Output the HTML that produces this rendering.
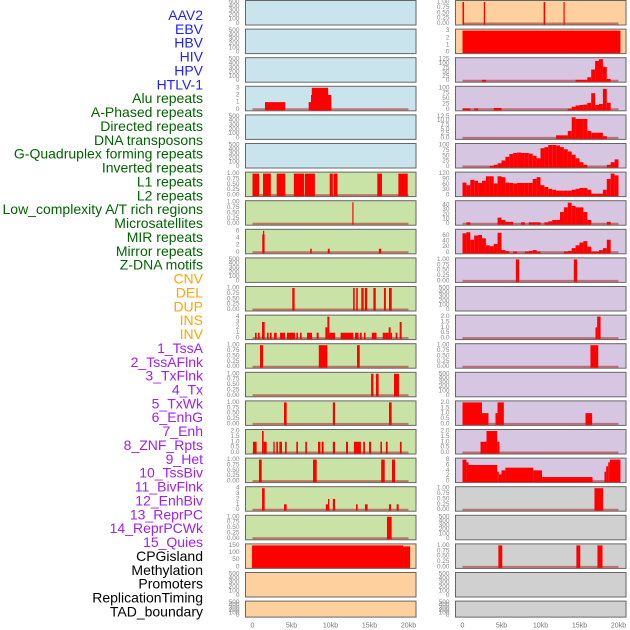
<!DOCTYPE html>
<html><head><meta charset="utf-8"><style>
html,body{margin:0;padding:0;background:#fff;}
svg{display:block;font-family:"Liberation Sans",sans-serif;}
</style></head><body>
<svg id="chart" width="630" height="630" viewBox="0 0 630 630" xmlns="http://www.w3.org/2000/svg"></svg>
<script>
// ---------- data ----------
const labelTexts = ["AAV2","EBV","HBV","HIV","HPV","HTLV-1","Alu repeats","A-Phased repeats","Directed repeats","DNA transposons","G-Quadruplex forming repeats","Inverted repeats","L1 repeats","L2 repeats","Low_complexity A/T rich regions","Microsatellites","MIR repeats","Mirror repeats","Z-DNA motifs","CNV","DEL","DUP","INS","INV","1_TssA","2_TssAFlnk","3_TxFlnk","4_Tx","5_TxWk","6_EnhG","7_Enh","8_ZNF_Rpts","9_Het","10_TssBiv","11_BivFlnk","12_EnhBiv","13_ReprPC","14_ReprPCWk","15_Quies","CPGisland","Methylation","Promoters","ReplicationTiming","TAD_boundary"];
const labelGroups = ["b","b","b","b","b","b","g","g","g","g","g","g","g","g","g","g","g","g","g","o","o","o","o","o","p","p","p","p","p","p","p","p","p","p","p","p","p","p","p","k","k","k","k","k"];
const xTickKb = [0,5,10,15,20];
const xTickLabels = ["0","5kb","10kb","15kb","20kb"];

const T500 = ["0","100","200","300","400","500"];
const TBIN = ["0.00","0.25","0.50","0.75","1.00"];
const T2 = ["0.0","0.5","1.0","1.5","2.0"];

// segments: [startKb, endKb, value]
const L3 = [[1.6,4.2,1],[7.2,10.1,1],[7.5,10.1,2],[7.6,9.7,3]];
const L6 = [[0,0.85,1],[1.35,2.35,1],[3.1,4.2,1],[5.3,6.6,1],[6.7,8.0,1],[9.9,10.3,1],[10.4,10.9,1],[16.0,16.6,1],[18.7,19.9,1]];
const L7 = [[12.8,12.95,1]];
const L8 = [[1.25,1.55,5],[1.35,1.5,6],[7.4,7.6,1],[9.65,9.9,1],[16.2,16.5,1]];
const L10 = [[5.1,5.4,1],[12.9,13.1,1],[13.3,13.5,1],[13.95,14.25,1],[14.4,14.7,1],[15.5,15.8,1],[16.85,17.1,1],[17.5,17.85,1]];
const L11 = [[0.32,0.53,1],[0.7,0.92,1],[1.22,1.56,3],[1.86,2.07,1],[2.24,2.46,1],[2.76,3.1,1],[3.53,4.17,1],[4.42,5.45,1],[5.62,5.83,1],[6.09,6.3,1],[6.99,7.63,1],[8.23,8.48,1],[9.34,9.6,2],[9.6,9.85,4],[9.85,10.58,1],[11.3,12.93,1],[13.14,13.6,1],[13.78,14.0,1],[14.29,14.5,1],[15.3,15.9,1],[16.7,17.03,1],[17.03,17.46,1],[17.46,17.71,2],[17.71,17.9,1],[18.35,18.57,1],[18.87,19.12,3]];
const L12 = [[0.96,1.35,1],[8.5,9.6,1],[13.4,13.75,1]];
const L13 = [[15.2,15.5,1],[15.83,16.17,1],[18.14,18.78,1]];
const L14 = [[4.04,4.38,1],[10.3,10.58,1],[17.5,17.84,1]];
const L15 = [[0.06,0.53,1],[1.22,1.43,2],[1.43,1.82,1],[2.67,2.84,1],[3.06,3.27,1],[3.44,3.78,1],[4.17,4.38,1],[5.62,5.83,1],[6.77,6.98,1],[8.4,8.7,1],[8.87,9.12,1],[10.3,10.58,1],[11.99,12.24,1],[13.0,13.9,1],[14.2,14.42,1],[14.94,15.2,1],[16.4,16.6,1],[17.1,17.33,1],[18.9,19.12,1]];
const L16 = [[0.83,1.18,1],[7.76,8.23,1],[16.5,16.95,1],[17.88,18.27,1]];
const L17 = [[1.22,1.56,4],[4.04,4.38,1],[9.4,9.68,1],[9.68,9.85,2],[10.3,10.58,2],[13.27,13.48,1],[14.42,14.76,1],[17.5,17.76,1],[18.48,18.74,1]];
const L18 = [[17.24,17.84,1]];
const L19 = [[-0.06,19.3,150],[19.3,20.2,143]];

const R0 = [[0,0.2,1],[2.73,2.9,1],[10.4,10.6,1],[12.95,13.1,1]];
const R1 = [[0,20.25,3]];
const R9 = [[6.84,7.26,1],[14.27,14.7,1]];
const R11 = [[17.05,17.26,1],[17.26,17.7,2]];
const R12 = [[16.4,17.4,1]];
const R14 = [[0,2.5,2],[2.5,3.33,1],[4.23,4.49,1],[4.49,5.3,2],[15.77,16.62,1]];
const R15 = [[2.31,3.08,1],[3.08,4.44,2],[4.44,4.74,1]];
const R16 = [[0,0.5,8],[0.5,0.77,7],[0.77,4.44,6],[4.44,4.66,3.5],[4.66,5.0,2.5],[5.0,5.5,4],[5.5,9.06,5],[9.06,10.2,4],[10.2,16.67,1.5],[18.2,18.42,3.5],[18.42,18.68,5.5],[18.68,18.9,7],[18.9,20.25,8]];
const R17 = [[16.92,18.03,1]];
const R19 = [[4.6,5.1,1],[14.6,15.1,1],[17.3,17.95,1]];

// histograms: 0.5kb bins from 0 to 20kb
const R2bins = [0,0,0,0,0,5,0,0,0,0, 0,0,0,0,0,0,0,0,0,0, 0,0,0,0,0,0,0,0,0,5, 5,5,20,65,115,125,80,10,0,0];
const R3bins = [4,4,0,4,0,0,0,0,6,6, 0,0,0,0,0,0,0,0,0,0, 0,0,0,0,0,0,0,2,12,18, 20,22,30,75,20,25,95,30,0,0];
const R4bins = [0,0,0,0,0,0,0,0,0,0, 0,0,0,0,0,0,0,0,0,0, 0,0,0,0,1.5,1.5,1.5,4,12,11, 11,11,4,3,3,3,1,0,0,0];
const R5bins = [0,0,0,0,0,0,0,3,8,15, 28,45,58,63,65,63,63,60,50,38, 85,90,100,100,98,90,80,70,55,38, 20,8,0,0,0,0,0,8,20,33];
const R6bins = [70,55,85,80,68,80,105,105,65,105, 100,70,68,65,68,68,68,68,90,100, 55,45,35,30,25,25,25,25,30,35, 40,40,30,8,8,8,30,90,120,110];
const R7bins = [0,3,0,0,0,0,0,0,0,13, 8,4,4,0,0,3,0,3,3,3, 0,3,5,8,8,25,35,45,38,35, 35,25,8,0,0,0,0,4,0,0];
const R8bins = [68,72,45,60,62,50,25,22,30,70, 8,4,0,3,0,0,3,5,8,3, 0,0,0,0,0,0,3,5,15,25, 35,40,20,3,3,8,15,45,0,0];

// panel definitions: [column, row, bgKey, ticks, ymax, segments, bins]
const panels = [
 [0,0,"blue",T500,500,null,null],[0,1,"blue",T500,500,null,null],[0,2,"blue",T500,500,null,null],
 [0,3,"blue",["0","1","2","3"],3,L3,null],[0,4,"blue",T500,500,null,null],[0,5,"blue",T500,500,null,null],
 [0,6,"green",TBIN,1,L6,null],[0,7,"green",TBIN,1,L7,null],[0,8,"green",["0","2","4","6"],6,L8,null],
 [0,9,"green",T500,500,null,null],[0,10,"green",TBIN,1,L10,null],[0,11,"green",["0","1","2","3","4"],4,L11,null],
 [0,12,"green",TBIN,1,L12,null],[0,13,"green",TBIN,1,L13,null],[0,14,"green",TBIN,1,L14,null],
 [0,15,"green",T2,2,L15,null],[0,16,"green",TBIN,1,L16,null],[0,17,"green",["0","1","2","3","4"],4,L17,null],
 [0,18,"green",TBIN,1,L18,null],[0,19,"orange",["0","50","100","150"],150,L19,null],
 [0,20,"orange",T500,500,null,null],[0,21,"orange",T500,500,null,null],
 [1,0,"orange",TBIN,1,R0,null],[1,1,"orange",["0","1","2","3"],3,R1,null],
 [1,2,"purple",["0","25","50","75","100","125"],125,null,R2bins],[1,3,"purple",["0","25","50","75","100"],100,null,R3bins],
 [1,4,"purple",["0.0","2.5","5.0","7.5","10.0","12.5"],12.5,null,R4bins],[1,5,"purple",["0","25","50","75","100"],100,null,R5bins],
 [1,6,"purple",["0","30","60","90","120"],120,null,R6bins],[1,7,"purple",["0","10","20","30","40"],46,null,R7bins],
 [1,8,"purple",["0","20","40","60"],77,null,R8bins],[1,9,"purple",TBIN,1,R9,null],[1,10,"purple",T500,500,null,null],
 [1,11,"purple",T2,2,R11,null],[1,12,"purple",TBIN,1,R12,null],[1,13,"purple",T500,500,null,null],
 [1,14,"purple",T2,2,R14,null],[1,15,"purple",T2,2,R15,null],[1,16,"purple",["0","2","4","6","8"],8,R16,null],
 [1,17,"grey",TBIN,1,R17,null],[1,18,"grey",T500,500,null,null],[1,19,"grey",TBIN,1,R19,null],
 [1,20,"grey",T500,500,null,null],[1,21,"grey",T500,500,null,null]
];

// ---------- drawing ----------
const NS = "http://www.w3.org/2000/svg";
const svg = document.getElementById("chart");
const bgColors = {blue:"#c9e4ec",green:"#c9e2a5",orange:"#fdd09e",purple:"#d6c6e2",grey:"#d0d0d0"};
const labelColors = {b:"#1f1fff",g:"#006400",o:"#ffa500",p:"#a020f0",k:"#000000"};
function mk(tag, attrs, parent){const e=document.createElementNS(NS,tag);for(const k in attrs)e.setAttribute(k,attrs[k]);(parent||svg).appendChild(e);return e;}
function xScale(col,kb){return 252.5 + col*210 + kb*7.8;}
function panelTop(row){return 0.5 + row*28.6;}
function panelH(row){return row===21 ? 16 : 24.5;}

// labels
labelTexts.forEach((t,i)=>{
  const e = mk("text",{x:203,y:15+13.87*i,"text-anchor":"end","dominant-baseline":"central","font-size":"14",fill:labelColors[labelGroups[i]]});
  
  
  e.textContent = t;
});

panels.forEach(p=>{
  const [col,row,bgKey,ticks,ymax,segs,bins] = p;
  const left = 245.5 + col*210, top = panelTop(row), h = panelH(row), w = 170.5;
  const g = mk("g",{});
  
  
  const r = mk("rect",{x:left,y:top,width:w,height:h,fill:bgColors[bgKey],stroke:"#666",'stroke-width':1},g);
  
  
  const y0 = top + h - 1.5, yr = h - 3;
  const yScale = v => y0 - v/ymax*yr;
  // y ticks
  const tg = mk("g",{},g);
  
  
  ticks.forEach(t=>{
    const tt = mk("text",{x:left-6,y:yScale(parseFloat(t)),"text-anchor":"end","dominant-baseline":"central","font-size":"6.5",fill:"#888"},tg);
    
    
    tt.textContent = t;
  });
  let list = segs;
  if(bins){ list = bins.map((v,i)=>[i*0.5,i*0.5+0.5,v]); }
  if(list){
    const bl = mk("line",{x1:xScale(col,0),x2:xScale(col,20),y1:y0,y2:y0,stroke:"#b03030","stroke-opacity":0.6,"stroke-width":2},g);
    
    
    list.forEach(s=>{
      if(s[2]<=0) return;
      const x1 = xScale(col,s[0]), x2 = xScale(col,s[1]);
      const yt = yScale(s[2]);
      const b = mk("rect",{x:x1,y:yt,width:Math.max(1,x2-x1),height:y0-yt+1,fill:"#ff0000"},g);
      
      
    });
  }
});

// x axes
[0,1].forEach(col=>{
  xTickKb.forEach((kb,i)=>{
    const t = mk("text",{x:xScale(col,kb),y:626,"text-anchor":"middle","dominant-baseline":"central","font-size":"7",fill:"#777"});
    
    
    t.textContent = xTickLabels[i];
  });
});
</script>
</body></html>
